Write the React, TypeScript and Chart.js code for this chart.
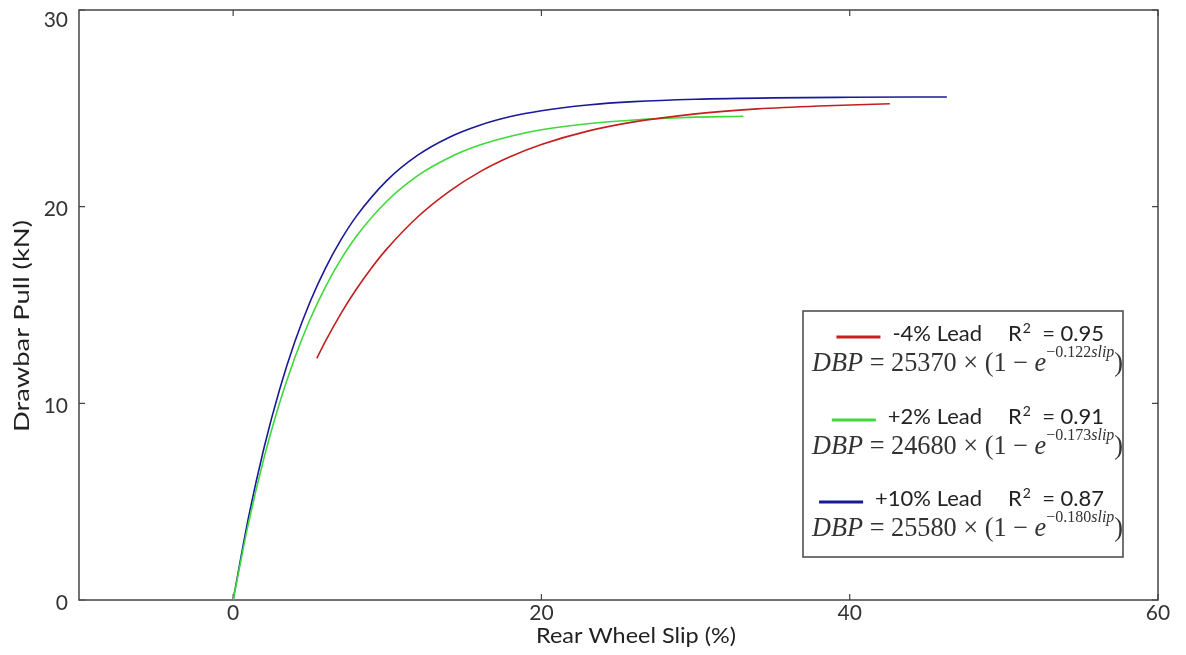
import React, { useEffect, useRef } from "react";
import { Chart, registerables } from "chart.js";

Chart.register(...registerables);

// ---- data ----
const blueSlip = [0, 1, 2, 3, 4, 5, 6, 7, 8, 10, 12, 14, 16, 18, 20, 23, 26, 30, 35, 40, 46.3];
const blueDbp = [0, 4.21, 7.73, 10.67, 13.13, 15.18, 16.89, 18.32, 19.52, 21.35, 22.63, 23.52, 24.14, 24.58, 24.88, 25.17, 25.34, 25.46, 25.53, 25.56, 25.58];

const greenSlip = [0, 1, 2, 3, 4, 5, 6, 7, 8, 10, 12, 14, 16, 18, 20, 23, 26, 29, 33.1];
const greenDbp = [0, 3.92, 7.22, 9.99, 12.32, 14.29, 15.94, 17.33, 18.5, 20.3, 21.59, 22.49, 23.13, 23.58, 23.91, 24.22, 24.41, 24.52, 24.6];

const redSlip = [5.43, 6, 7, 8, 9, 10, 12, 14, 16, 18, 20, 23, 26, 30, 34, 38, 42.6];
const redDbp = [12.29, 13.17, 14.57, 15.81, 16.91, 17.88, 19.5, 20.77, 21.77, 22.55, 23.16, 23.84, 24.31, 24.72, 24.97, 25.12, 25.23];

const xTickValues = [0, 20, 40, 60];
const yTickValues = [0, 10, 20, 30];

const seriesLabels = ["-4% Lead", "+2% Lead", "+10% Lead"];
const seriesR2 = ["0.95", "0.91", "0.87"];
const seriesCoefA = ["25370", "24680", "25580"];
const seriesCoefK = ["0.122", "0.173", "0.180"];
const seriesColors = ["#c41e1e", "#3fd93a", "#1a1a99"];

const xTitle = "Rear Wheel Slip (%)";
const yTitle = "Drawbar Pull (kN)";

const FONT = 'Lato, "Open Sans", sans-serif';
const SERIF = '"Liberation Serif", "DejaVu Serif", serif';

const toPoints = (xs: number[], ys: number[]) => xs.map((x, i) => ({ x, y: ys[i] }));

// draw text stretched along its direction to a target length
const fitText = (ctx: CanvasRenderingContext2D, text: string, len: number) => {
  const w = ctx.measureText(text).width;
  ctx.save();
  ctx.scale(len / w, 1);
  ctx.fillText(text, 0, 0);
  ctx.restore();
};

const decorPlugin = {
  id: "decor",
  beforeDatasetsDraw(chart: any) {
    const { ctx, chartArea: ca, scales } = chart;
    const xs = scales.x;
    const ys = scales.y;
    ctx.save();
    ctx.strokeStyle = "#444";
    ctx.lineWidth = 1.5;
    ctx.strokeRect(ca.left, ca.top, ca.right - ca.left, ca.bottom - ca.top);
    ctx.lineWidth = 1.2;
    const tl = 6;
    xTickValues.forEach((v) => {
      const px = xs.getPixelForValue(v);
      ctx.beginPath();
      ctx.moveTo(px, ca.bottom);
      ctx.lineTo(px, ca.bottom - tl);
      ctx.moveTo(px, ca.top);
      ctx.lineTo(px, ca.top + tl);
      ctx.stroke();
    });
    yTickValues.forEach((v) => {
      const py = ys.getPixelForValue(v);
      ctx.beginPath();
      ctx.moveTo(ca.left, py);
      ctx.lineTo(ca.left + tl, py);
      ctx.moveTo(ca.right, py);
      ctx.lineTo(ca.right - tl, py);
      ctx.stroke();
    });
    ctx.restore();
  },
  afterDraw(chart: any) {
    const { ctx, chartArea: ca, scales } = chart;
    const xs = scales.x;
    const ys = scales.y;
    ctx.save();
    // tick labels
    ctx.fillStyle = "#333";
    ctx.font = `21px ${FONT}`;
    ctx.textBaseline = "middle";
    ctx.textAlign = "center";
    xTickValues.forEach((v) => {
      ctx.fillText(String(v), xs.getPixelForValue(v), ca.bottom + 13);
    });
    ctx.textAlign = "right";
    yTickValues.forEach((v) => {
      const py = Math.max(ys.getPixelForValue(v) + 3, 20);
      ctx.fillText(String(v), ca.left - 11, py);
    });
    // axis titles
    ctx.fillStyle = "#222";
    ctx.font = `22px ${FONT}`;
    ctx.textAlign = "center";
    ctx.save();
    ctx.translate(636, ca.bottom + 36);
    fitText(ctx, xTitle, 200);
    ctx.restore();
    ctx.save();
    ctx.translate(22, 326);
    ctx.rotate(-Math.PI / 2);
    fitText(ctx, yTitle, 212);
    ctx.restore();

    // legend box
    const bx = 803;
    const by = 311;
    const bw = 320;
    const bh = 246;
    ctx.fillStyle = "#fff";
    ctx.fillRect(bx, by, bw, bh);
    ctx.strokeStyle = "#444";
    ctx.lineWidth = 1.5;
    ctx.strokeRect(bx, by, bw, bh);

    const rowLine = [26, 109, 191];
    for (let i = 0; i < seriesLabels.length; i++) {
      const ly = by + rowLine[i];
      const ty = ly - 3;
      ctx.fillStyle = "#222";
      ctx.font = `22px ${FONT}`;
      ctx.textAlign = "right";
      ctx.textBaseline = "middle";
      const labelRight = bx + 179;
      ctx.fillText(seriesLabels[i], labelRight, ty);
      const lw = ctx.measureText(seriesLabels[i]).width;
      const lStart = labelRight - lw;
      ctx.strokeStyle = seriesColors[i];
      ctx.lineWidth = 3;
      ctx.beginPath();
      ctx.moveTo(lStart - 56, ly);
      ctx.lineTo(lStart - 12, ly);
      ctx.stroke();
      // R^2
      ctx.textAlign = "left";
      let rx = bx + 205;
      ctx.fillText("R", rx, ty);
      rx += ctx.measureText("R").width;
      ctx.font = `14px ${FONT}`;
      ctx.fillText("2", rx + 1, ty - 6);
      rx += ctx.measureText("2").width + 1;
      ctx.font = `22px ${FONT}`;
      ctx.fillText("  = " + seriesR2[i], rx, ty);

      // formula
      const fy = ly + 25;
      const segs = [
        { t: "DBP", it: true, sup: false },
        { t: " = " + seriesCoefA[i] + " × (1 − ", it: false, sup: false },
        { t: "e", it: true, sup: false },
        { t: "−" + seriesCoefK[i], it: false, sup: true },
        { t: "slip", it: true, sup: true },
        { t: ")", it: false, sup: false },
      ];
      const base = 19;
      const fontFor = (s: any, size: number) =>
        `${s.it ? "italic " : ""}${s.sup ? Math.round(size * 0.6) : size}px ${SERIF}`;
      let total = 0;
      segs.forEach((s) => {
        ctx.font = fontFor(s, base);
        total += ctx.measureText(s.t).width;
      });
      const target = 308;
      const size = base * (target / total);
      let fx = bx + 9;
      ctx.fillStyle = "#333";
      ctx.textBaseline = "alphabetic";
      segs.forEach((s) => {
        ctx.font = fontFor(s, size);
        const yOff = s.sup ? -size * 0.55 : 0;
        ctx.fillText(s.t, fx, fy + size * 0.35 + yOff);
        fx += ctx.measureText(s.t).width;
      });
    }
    ctx.restore();
  },
};

export default function App() {
  const canvasRef = useRef<HTMLCanvasElement | null>(null);

  useEffect(() => {
    if (!canvasRef.current) return;
    const mk = (label: string, xs: number[], ys: number[], color: string) => ({
      label,
      data: toPoints(xs, ys),
      borderColor: color,
      backgroundColor: color,
      borderWidth: 1.6,
      pointRadius: 0,
      showLine: true,
      fill: false,
      cubicInterpolationMode: "monotone" as const,
    });
    const chart = new Chart(canvasRef.current, {
      type: "scatter",
      data: {
        datasets: [
          mk(seriesLabels[0], redSlip, redDbp, seriesColors[0]),
          mk(seriesLabels[1], greenSlip, greenDbp, seriesColors[1]),
          mk(seriesLabels[2], blueSlip, blueDbp, seriesColors[2]),
        ],
      },
      options: {
        animation: false,
        responsive: true,
        maintainAspectRatio: false,
        layout: { padding: { left: 79, top: 10, right: 28, bottom: 55 } },
        plugins: { legend: { display: false }, tooltip: { enabled: false } },
        scales: {
          x: { type: "linear", min: -10, max: 60, display: false },
          y: { type: "linear", min: 0, max: 30, display: false },
        },
      },
      plugins: [decorPlugin],
    });
    return () => chart.destroy();
  }, []);

  return (
    <div style={{ position: "fixed", left: 0, top: 0, width: 1186, height: 655, background: "#fff" }}>
      <canvas ref={canvasRef} />
    </div>
  );
}
